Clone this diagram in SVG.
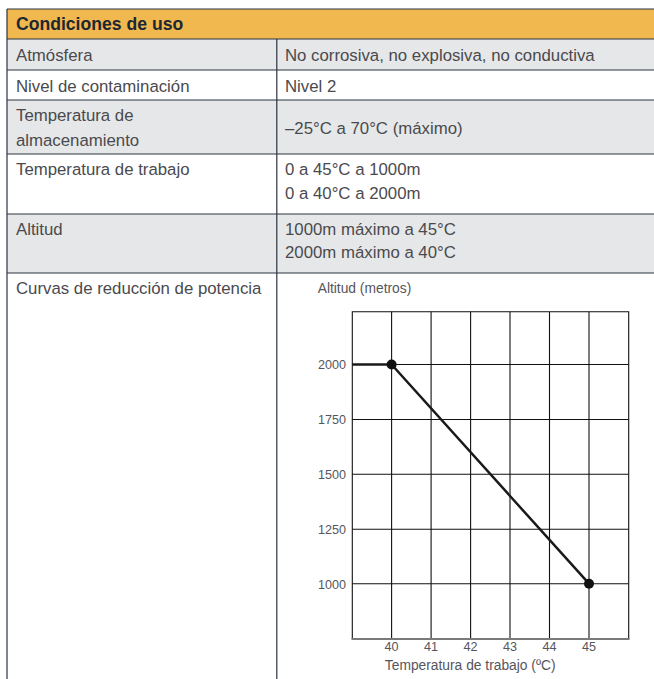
<svg xmlns="http://www.w3.org/2000/svg" width="654" height="679" viewBox="0 0 654 679">
<style>
.t{font-family:"Liberation Sans",Arial,sans-serif;font-size:16.8px;fill:#4a4a4e}
.h{font-family:"Liberation Sans",Arial,sans-serif;font-size:17.6px;font-weight:bold;fill:#1d2733}
.c{font-family:"Liberation Sans",Arial,sans-serif;font-size:12.6px;fill:#55555c}
.cl{font-family:"Liberation Sans",Arial,sans-serif;font-size:13.8px;fill:#55555c}
.rl{stroke:#2b3440;stroke-width:1.2;fill:none}
.g{stroke:#111;stroke-width:1.1;fill:none}
</style>
<rect width="654" height="679" fill="#fff"/>
<g id="table">
<rect x="7" y="9" width="647" height="30" fill="#F0B84E"/>
<rect x="7" y="39" width="647" height="31" fill="#E6E7E8"/>
<rect x="7" y="70" width="647" height="30" fill="#fff"/>
<rect x="7" y="100" width="647" height="54" fill="#E6E7E8"/>
<rect x="7" y="154" width="647" height="60" fill="#fff"/>
<rect x="7" y="214" width="647" height="59" fill="#E6E7E8"/>
<line class="rl" x1="7" y1="9" x2="654" y2="9" stroke="#6b7178"/>
<line class="rl" x1="7" y1="39" x2="654" y2="39"/>
<line class="rl" x1="7" y1="70" x2="654" y2="70"/>
<line class="rl" x1="7" y1="100" x2="654" y2="100"/>
<line class="rl" x1="7" y1="154" x2="654" y2="154"/>
<line class="rl" x1="7" y1="214" x2="654" y2="214"/>
<line class="rl" x1="7" y1="273" x2="654" y2="273"/>
<line class="rl" x1="7" y1="9" x2="7" y2="679"/>
<line class="rl" x1="276.8" y1="39" x2="276.8" y2="679" stroke="#4e565e" stroke-width="1.4"/>
</g>
<g id="header"><text class="h" x="16" y="29.5">Condiciones de uso</text></g>
<g id="row-atmosfera">
<text class="t" x="16" y="61">Atmósfera</text>
<text class="t" x="285" y="61">No corrosiva, no explosiva, no conductiva</text>
</g>
<g id="row-nivel">
<text class="t" x="16" y="91.5">Nivel de contaminación</text>
<text class="t" x="285" y="91.5">Nivel 2</text>
</g>
<g id="row-almacenamiento">
<text class="t" x="16" y="120.5">Temperatura de</text>
<text class="t" x="16" y="146">almacenamiento</text>
<text class="t" x="285" y="133.5">–25°C a 70°C (máximo)</text>
</g>
<g id="row-trabajo">
<text class="t" x="16" y="175">Temperatura de trabajo</text>
<text class="t" x="285" y="175">0 a 45°C a 1000m</text>
<text class="t" x="285" y="198.5">0 a 40°C a 2000m</text>
</g>
<g id="row-altitud">
<text class="t" x="16" y="234.5">Altitud</text>
<text class="t" x="285" y="234.5">1000m máximo a 45°C</text>
<text class="t" x="285" y="257.5">2000m máximo a 40°C</text>
</g>
<g id="row-curvas">
<text class="t" x="16" y="293.5">Curvas de reducción de potencia</text>
</g>
<g id="chart">
<text class="cl" x="317.7" y="293">Altitud (metros)</text>
<g id="grid">
<line class="g" x1="391.6" y1="311.7" x2="391.6" y2="639"/>
<line class="g" x1="431.1" y1="311.7" x2="431.1" y2="639"/>
<line class="g" x1="470.6" y1="311.7" x2="470.6" y2="639"/>
<line class="g" x1="510" y1="311.7" x2="510" y2="639"/>
<line class="g" x1="549.5" y1="311.7" x2="549.5" y2="639"/>
<line class="g" x1="589" y1="311.7" x2="589" y2="639"/>
<line class="g" x1="352.3" y1="364.5" x2="628.7" y2="364.5"/>
<line class="g" x1="352.3" y1="419.5" x2="628.7" y2="419.5"/>
<line class="g" x1="352.3" y1="474.3" x2="628.7" y2="474.3"/>
<line class="g" x1="352.3" y1="529.2" x2="628.7" y2="529.2"/>
<line class="g" x1="352.3" y1="583.7" x2="628.7" y2="583.7"/>
<polyline class="g" points="352.3,639 352.3,311.7 628.7,311.7 628.7,639" stroke="#222" stroke-width="1.3"/>
<line x1="351.5" y1="639" x2="629.5" y2="639" stroke="#7a7a7a" stroke-width="2"/>
</g>
<g id="y-labels" text-anchor="end">
<text class="c" x="346" y="369">2000</text>
<text class="c" x="346" y="424">1750</text>
<text class="c" x="346" y="479">1500</text>
<text class="c" x="346" y="534">1250</text>
<text class="c" x="346" y="588.5">1000</text>
</g>
<g id="x-labels" text-anchor="middle">
<text class="c" x="391.6" y="651">40</text>
<text class="c" x="431.1" y="651">41</text>
<text class="c" x="470.6" y="651">42</text>
<text class="c" x="510" y="651">43</text>
<text class="c" x="549.5" y="651">44</text>
<text class="c" x="589" y="651">45</text>
<text class="cl" x="470.2" y="670">Temperatura de trabajo (ºC)</text>
</g>
<g id="curve">
<polyline points="352.3,364.5 391.6,364.5 589,583.7" fill="none" stroke="#1a1a1a" stroke-width="2.5" stroke-linejoin="round"/>
<circle cx="391.6" cy="364.5" r="5" fill="#111"/>
<circle cx="589" cy="583.7" r="5" fill="#111"/>
</g>
</g>
</svg>
